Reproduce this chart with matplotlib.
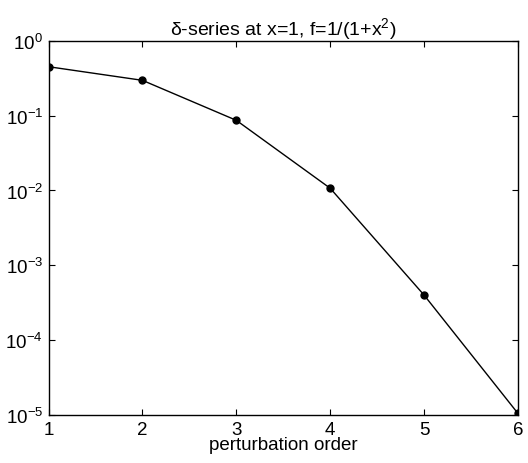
import matplotlib
matplotlib.use('Agg')
import matplotlib.pyplot as plt
from matplotlib.ticker import NullLocator, LogLocator

plt.rcParams['font.family'] = ['Liberation Sans', 'DejaVu Sans']
plt.rcParams['mathtext.fontset'] = 'custom'
plt.rcParams['mathtext.rm'] = 'Liberation Sans'
plt.rcParams['mathtext.it'] = 'Liberation Sans:italic'

# perturbation order vs error
order = [1, 2, 3, 4, 5, 6]
err = [0.45, 0.296, 0.0865, 0.0107, 4.0e-4, 1.05e-5]

fig = plt.figure(figsize=(5.28, 4.64), dpi=100)
ax = fig.add_axes([0.092, 0.1034, 0.889, 0.8066])

ax.semilogy(order, err, '-', color='black', lw=1.0, marker='o', ms=5)

ax.set_xlim(1, 6)
ax.set_ylim(1e-5, 1e0)
ax.set_xticks(order)
ax.yaxis.set_major_locator(LogLocator(base=10, numticks=10))
ax.yaxis.set_minor_locator(NullLocator())
ax.tick_params(direction='in', top=True, right=True, labelsize=13.5, length=4, width=0.8, pad=4)
for s in ax.spines.values():
    s.set_linewidth(1.0)

ax.set_xlabel('perturbation order', fontsize=13.5, labelpad=-1)
ax.set_title('δ-series at x=1, f=1/(1+x$^{2}$)', fontsize=14, pad=5)

fig.savefig('out.png', dpi=100)
